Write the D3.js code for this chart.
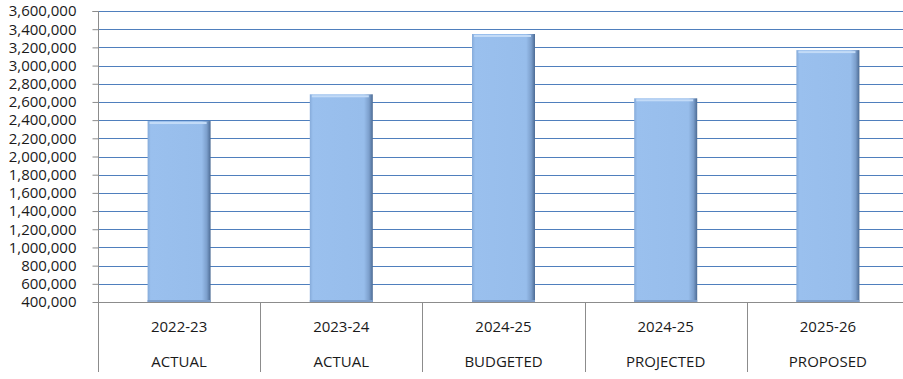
<!DOCTYPE html>
<html><head><meta charset="utf-8">
<script src="https://cdn.jsdelivr.net/npm/d3@7"></script>
<style>
html,body{margin:0;padding:0;background:#fff;}
svg{display:block;}
text{font-family:"Open Sans","Noto Sans",sans-serif;fill:#1a1a1a;}
</style></head>
<body>
<svg id="c" width="903" height="379"></svg>
<script>
const years = ["2022-23","2023-24","2024-25","2024-25","2025-26"];
const kinds = ["ACTUAL","ACTUAL","BUDGETED","PROJECTED","PROPOSED"];
const values = [2390000, 2684000, 3347000, 2640000, 3170000];
const yTicks = [400000,600000,800000,1000000,1200000,1400000,1600000,1800000,2000000,2200000,2400000,2600000,2800000,3000000,3200000,3400000,3600000];

(function(){
const svg = d3.select("#c");
const mLeft = 98, mRight = 909, mTop = 11, mBottom = 302;
const x = d3.scaleBand().domain(d3.range(years.length)).range([mLeft, mRight]).paddingInner(0).paddingOuter(0);
const y = d3.scaleLinear().domain([400000, 3600000]).range([mBottom, mTop]);

const defs = svg.append("defs");
const g1 = defs.append("linearGradient").attr("id","barH").attr("x1","0").attr("x2","1").attr("y1","0").attr("y2","0");
g1.append("stop").attr("offset","0").attr("stop-color","#86abda");
g1.append("stop").attr("offset","0.05").attr("stop-color","#9ac0ee");
g1.append("stop").attr("offset","0.86").attr("stop-color","#97bdeb");
g1.append("stop").attr("offset","0.94").attr("stop-color","#7c9fcc");
g1.append("stop").attr("offset","1").attr("stop-color","#4c6b94");

// gridlines
svg.append("g").selectAll("line").data(yTicks.slice(1)).join("line")
  .attr("x1", mLeft).attr("x2", 903)
  .attr("y1", d => Math.round(y(d)) + 0.5).attr("y2", d => Math.round(y(d)) + 0.5)
  .attr("stroke", "#4f7fbd").attr("stroke-width", 1);

// y axis
const ya = svg.append("g").attr("transform", `translate(${mLeft + 0.5},0)`)
  .call(d3.axisLeft(y).tickValues(yTicks).tickSize(6).tickPadding(16).tickFormat(d3.format(",")));
ya.select(".domain").attr("stroke", "#8c8c8c").attr("d", `M-6,${mTop + 0.5}H0V${mBottom}V372`);
ya.selectAll(".tick line").attr("stroke", "#8c8c8c");
ya.selectAll(".tick text").style("font-family", '"Open Sans","Noto Sans",sans-serif').style("font-size", "15px").attr("fill", "#1a1a1a");

// bars
const bw = 63;
const bars = svg.append("g").selectAll("g").data(values).join("g");
bars.append("rect")
  .attr("x", (d, i) => x(i) + x.bandwidth() / 2 - bw / 2)
  .attr("y", d => y(d))
  .attr("width", bw)
  .attr("height", d => mBottom - y(d))
  .attr("fill", "url(#barH)");
bars.append("rect")
  .attr("x", (d, i) => x(i) + x.bandwidth() / 2 - bw / 2 + 2)
  .attr("y", d => y(d) + 1)
  .attr("width", bw - 6)
  .attr("height", 2)
  .attr("fill", "#c3dbf7");
bars.append("rect")
  .attr("x", (d, i) => x(i) + x.bandwidth() / 2 - bw / 2)
  .attr("y", mBottom - 2)
  .attr("width", bw)
  .attr("height", 2)
  .attr("fill", "#7f9fca");

// x axis
const xa = svg.append("g");
xa.append("line").attr("x1", mLeft).attr("x2", 903).attr("y1", mBottom + 0.5).attr("y2", mBottom + 0.5).attr("stroke", "#8c8c8c");
xa.selectAll("line.sep").data(d3.range(1, years.length)).join("line").attr("class","sep")
  .attr("x1", i => Math.round(x(i)) + 0.5).attr("x2", i => Math.round(x(i)) + 0.5)
  .attr("y1", mBottom).attr("y2", 372).attr("stroke", "#8c8c8c");
xa.selectAll("text.yr").data(years).join("text").attr("class","yr")
  .attr("x", (d, i) => x(i) + x.bandwidth() / 2).attr("y", 332)
  .attr("text-anchor", "middle").style("font-size", "15px").text(d => d);
xa.selectAll("text.kd").data(kinds).join("text").attr("class","kd")
  .attr("x", (d, i) => x(i) + x.bandwidth() / 2).attr("y", 367)
  .attr("text-anchor", "middle").style("font-size", "15px").text(d => d);
})();
</script>
</body></html>
